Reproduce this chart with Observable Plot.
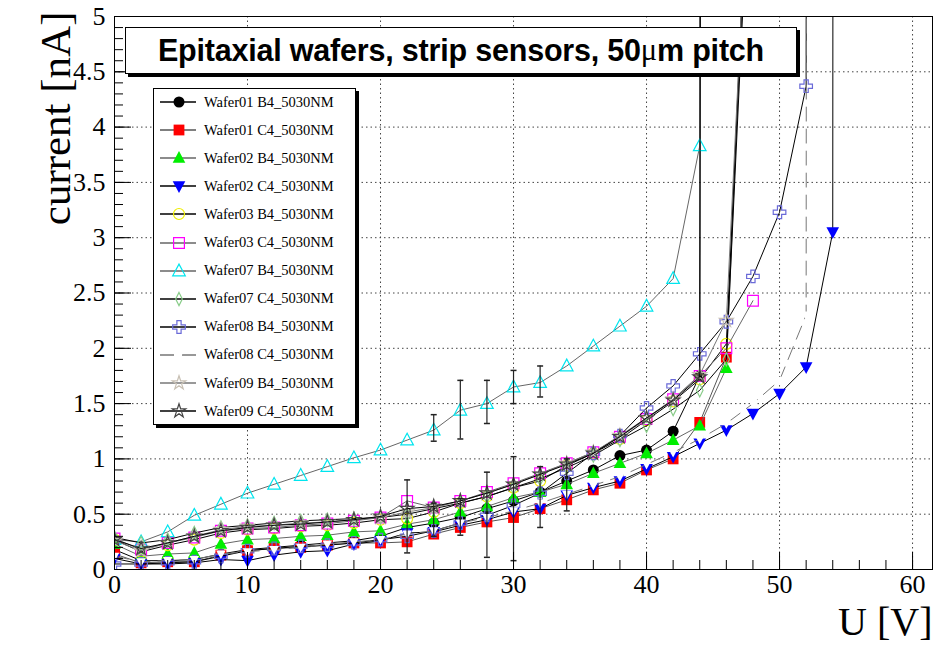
<!DOCTYPE html>
<html><head><meta charset="utf-8">
<script src="https://cdn.jsdelivr.net/npm/d3@7"></script>
<script src="https://cdn.jsdelivr.net/npm/@observablehq/plot@0.6"></script>
<style>
body{margin:0;background:#fff;}
#wrap{position:relative;width:933px;height:645px;overflow:hidden;background:#fff;}
#wrap svg.plot{position:absolute;left:0;top:0;}
#title{position:absolute;left:125px;top:27px;width:670px;height:45px;border:1px solid #000;background:#fff;box-shadow:3px 3px 0 #000;font:bold 30.5px "Liberation Sans",Arial,sans-serif;display:flex;align-items:center;justify-content:center;color:#000;letter-spacing:-0.2px;}
#title .mu{font-family:"Liberation Serif","Times New Roman",serif;font-weight:normal;}
#legend{position:absolute;left:153px;top:88px;width:201px;height:335px;border:1px solid #000;background:#fff;box-shadow:3px 3px 0 #000;}
.row{position:absolute;left:0;height:22px;display:flex;align-items:center;font:14.5px "Liberation Serif","Times New Roman",serif;color:#000;white-space:nowrap;}
.row svg{margin-left:4px;margin-right:6px;}
</style></head>
<body>
<div id="wrap">
  <div id="chart"></div>
  <div id="title">Epitaxial wafers, strip sensors, 50<span class="mu">μ</span>m pitch</div>
  <div id="legend"></div>
</div>
<script>
// ---------- data ----------
const U = [0,2,4,6,8,10,12,14,16,18,20,22,24,26,28,30,32,34,36,38,40,42,44,46,48,50,52,54,56];

const names = ["Wafer01 B4_5030NM","Wafer01 C4_5030NM","Wafer02 B4_5030NM","Wafer02 C4_5030NM",
  "Wafer03 B4_5030NM","Wafer03 C4_5030NM","Wafer07 B4_5030NM","Wafer07 C4_5030NM",
  "Wafer08 B4_5030NM","Wafer08 C4_5030NM","Wafer09 B4_5030NM","Wafer09 C4_5030NM"];

const w01b4 = [0.18,0.08,0.08,0.09,0.14,0.18,0.20,0.22,0.24,0.26,0.30,0.38,0.42,0.47,0.55,0.62,0.70,0.80,0.90,1.03,1.08,1.25,1.75,150];
const w01c4 = [0.14,0.06,0.07,0.07,0.13,0.17,0.19,0.20,0.22,0.24,0.24,0.25,0.32,0.38,0.43,0.47,0.55,0.63,0.72,0.78,0.90,1.00,1.33,1.92,7.5];
const w02b4 = [0.23,0.12,0.14,0.15,0.23,0.27,0.28,0.30,0.31,0.34,0.35,0.41,0.45,0.52,0.57,0.65,0.70,0.77,0.87,0.96,1.05,1.17,1.30,1.82,7.5];
const w02c4 = [0.10,0.05,0.05,0.06,0.09,0.08,0.13,0.16,0.17,0.23,0.26,0.33,0.34,0.40,0.45,0.52,0.55,0.67,0.74,0.80,0.91,1.02,1.14,1.26,1.41,1.59,1.83,3.05,400];
const w03b4 = [0.27,0.16,0.22,0.27,0.33,0.36,0.37,0.39,0.40,0.42,0.45,0.46,0.52,0.60,0.66,0.74,0.80,0.94,1.05,1.18,1.35,1.52,1.72,2.04,7.2];
const w03c4 = [0.28,0.18,0.24,0.29,0.35,0.37,0.38,0.40,0.415,0.44,0.47,0.62,0.56,0.62,0.70,0.78,0.87,0.96,1.06,1.20,1.36,1.54,1.75,2.00,2.43];
const w07b4 = [0.27,0.25,0.34,0.49,0.59,0.69,0.77,0.85,0.93,1.01,1.08,1.17,1.26,1.44,1.50,1.65,1.69,1.84,2.02,2.20,2.38,2.63,3.83,300];
const w07c4 = [0.29,0.24,0.27,0.33,0.38,0.40,0.42,0.44,0.45,0.46,0.47,0.50,0.55,0.60,0.66,0.74,0.82,0.92,1.03,1.17,1.30,1.45,1.62,1.90,7.0];
const w08b4 = [0.05,0.05,0.06,0.07,0.12,0.17,0.19,0.21,0.22,0.24,0.27,0.30,0.35,0.42,0.49,0.58,0.69,0.87,1.05,1.21,1.46,1.66,1.95,2.24,2.65,3.23,4.37,300];
const w08c4 = [0.12,0.07,0.08,0.09,0.14,0.16,0.18,0.20,0.23,0.25,0.27,0.32,0.35,0.42,0.47,0.53,0.60,0.68,0.76,0.84,0.95,1.06,1.18,1.32,1.50,1.71,2.30,400];
const w09b4 = [0.26,0.17,0.24,0.30,0.36,0.39,0.40,0.42,0.43,0.45,0.47,0.52,0.56,0.62,0.69,0.77,0.86,0.96,1.06,1.21,1.37,1.54,1.76,2.25,7.2];
const w09c4 = [0.27,0.19,0.24,0.30,0.35,0.38,0.40,0.41,0.43,0.45,0.48,0.55,0.57,0.62,0.69,0.77,0.86,0.95,1.05,1.20,1.37,1.53,1.74,200];

const seriesValues = [w01b4,w01c4,w02b4,w02c4,w03b4,w03c4,w07b4,w07c4,w08b4,w08c4,w09b4,w09c4];

// error bars
const errU  = [24,26,28,30,32, 22,24,26,28,30,32,34];
const errLo = [1.16,1.18,1.32,1.50,1.56, 0.15,0.30,0.31,0.11,0.08,0.38,0.53];
const errHi = [1.40,1.71,1.71,1.80,1.84, 0.81,0.60,0.64,0.88,1.02,0.93,1.00];

// axis tick labels
const xLabels = [0,10,20,30,40,50,60];
const yLabels = [0,0.5,1,1.5,2,2.5,3,3.5,4,4.5,5];

// ---------- styles ----------
const markerColors = ["#000000","#ff0000","#00ee00","#0000ff","#eeee00","#ff00ff","#00e5ee","#88cc88","#6a6ad8","#ffffff","#c8c0b4","#444444"];
const lineColors   = ["#000","#555","#666","#000","#000","#666","#666","#000","#000","#777","#777","#000"];
const filled       = [true,true,true,true,false,false,false,false,false,true,false,false];
const dashes       = [null,null,null,null,null,null,null,null,null,"14,8",null,null];

const rr = s => Math.sqrt(s/Math.PI);
const symSquare = {draw(c,s){const r=rr(s)*0.9;c.rect(-r,-r,2*r,2*r);}};
const symTriUp = {draw(c,s){const r=rr(s);c.moveTo(-r*1.05,r*0.8);c.lineTo(r*1.05,r*0.8);c.lineTo(0,-r*1.15);c.closePath();}};
const symTriDown = {draw(c,s){const r=rr(s);c.moveTo(-r*1.05,-r*0.8);c.lineTo(r*1.05,-r*0.8);c.lineTo(0,r*1.15);c.closePath();}};
const symDiamond = {draw(c,s){const r=rr(s);c.moveTo(0,-r*1.1);c.lineTo(r*0.55,0);c.lineTo(0,r*1.1);c.lineTo(-r*0.55,0);c.closePath();}};
const symCross = {draw(c,s){const r=rr(s);const w=r*0.35,e=r*1.05;
  const p=[[-w,-e],[w,-e],[w,-w],[e,-w],[e,w],[w,w],[w,e],[-w,e],[-w,w],[-e,w],[-e,-w],[-w,-w]];
  c.moveTo(p[0][0],p[0][1]);for(let k=1;k<p.length;k++)c.lineTo(p[k][0],p[k][1]);c.closePath();}};
const symCap = {draw(c,s){const r=rr(s);c.moveTo(-r,0);c.lineTo(r,0);}};
const symbols = [d3.symbolCircle,symSquare,symTriUp,symTriDown,d3.symbolCircle,symSquare,symTriUp,symDiamond,symCross,symTriDown,d3.symbolStar,d3.symbolStar];
const markerR = [5.5,6,6,6,5.5,6,6,6,6,4.5,4.3,4.3];

// ---------- chart ----------
const W = 933, H = 645, mL = 114, mR = 1, mT = 16, mB = 76;
const frameW = W - mL - mR, frameH = H - mT - mB;
const serif = "Liberation Serif, Times New Roman, serif";

const marks = [
  Plot.gridX([10,20,30,40,50,60], {stroke:"#444", strokeOpacity:1, strokeWidth:1, strokeDasharray:"1.5,3"}),
  Plot.gridY([0.5,1,1.5,2,2.5,3,3.5,4,4.5], {stroke:"#444", strokeOpacity:1, strokeWidth:1, strokeDasharray:"1.5,3"})
];

seriesValues.forEach((vals, i) => {
  const data = vals.map((v, j) => ({u: U[j], cur: v}));
  marks.push(Plot.line(data, {x:"u", y:"cur", stroke: lineColors[i], strokeWidth: 1, strokeDasharray: dashes[i], clip: true}));
  marks.push(Plot.dot(data, {x:"u", y:"cur", symbol: symbols[i], r: markerR[i],
    fill: filled[i] ? markerColors[i] : "none",
    stroke: filled[i] ? "none" : markerColors[i],
    strokeWidth: 1.2, clip: true}));
});

const errData = errU.map((u, k) => ({u, lo: errLo[k], hi: errHi[k]}));
marks.push(Plot.ruleX(errData, {x:"u", y1:"lo", y2:"hi", stroke:"#222", strokeWidth:1.2}));
marks.push(Plot.dot(errData, {x:"u", y:"lo", symbol: symCap, r: 3, stroke:"#222", fill:"none"}));
marks.push(Plot.dot(errData, {x:"u", y:"hi", symbol: symCap, r: 3, stroke:"#222", fill:"none"}));

// ticks (ROOT style, inside the frame)
marks.push(
  Plot.tickX(d3.range(0, 61.5, 2), {x: d => d, stroke:"#000", insetTop: frameH - 9}),
  Plot.tickX(xLabels, {x: d => d, stroke:"#000", insetTop: frameH - 17}),
  Plot.tickY(d3.range(0, 5.001, 0.1), {y: d => d, stroke:"#000", insetRight: frameW - 9}),
  Plot.tickY(yLabels, {y: d => d, stroke:"#000", insetRight: frameW - 17}),
  Plot.frame({stroke:"#000", strokeWidth:1}),
  Plot.axisX(xLabels, {tickSize: 0, tickPadding: 5, fontSize: 26, fontFamily: serif, tickFormat: d => String(d)}),
  Plot.axisY(yLabels, {tickSize: 0, tickPadding: 9, fontSize: 26, fontFamily: serif, tickFormat: d => String(d)}),
  Plot.text(["current [nA]"], {frameAnchor:"top-left", dx:-75, dy:-5, rotate:-90, textAnchor:"end", fontSize: 43, fontFamily: serif, fill:"#000"}),
  Plot.text(["U [V]"], {frameAnchor:"bottom-right", dx:0, dy:65, textAnchor:"end", fontSize: 40, fontFamily: serif, fill:"#000"})
);

const chart = Plot.plot({
  width: W, height: H,
  marginLeft: mL, marginRight: mR, marginTop: mT, marginBottom: mB,
  x: {domain: [0, 61.5], label: null},
  y: {domain: [0, 5], label: null},
  style: {fontFamily: serif, color: "#000", background: "#fff", overflow: "visible"},
  marks
});
chart.classList.add("plot");
document.getElementById("chart").appendChild(chart);

// ---------- legend ----------
const legend = document.getElementById("legend");
names.forEach((name, i) => {
  const row = document.createElement("div");
  row.className = "row";
  row.style.top = (2 + 28.1 * i) + "px";
  const s = d3.create("svg").attr("width", 40).attr("height", 22);
  s.append("line").attr("x1", 2).attr("x2", 38).attr("y1", 11).attr("y2", 11)
    .attr("stroke", lineColors[i]).attr("stroke-width", 1.3).attr("stroke-dasharray", dashes[i]);
  const size = Math.PI * markerR[i] * markerR[i];
  s.append("path").attr("transform", "translate(21,11)")
    .attr("d", d3.symbol(symbols[i], size)())
    .attr("fill", filled[i] ? markerColors[i] : "none")
    .attr("stroke", filled[i] ? "none" : markerColors[i])
    .attr("stroke-width", 1.2);
  row.appendChild(s.node());
  const t = document.createElement("span");
  t.textContent = name;
  row.appendChild(t);
  legend.appendChild(row);
});
</script>
</body></html>
